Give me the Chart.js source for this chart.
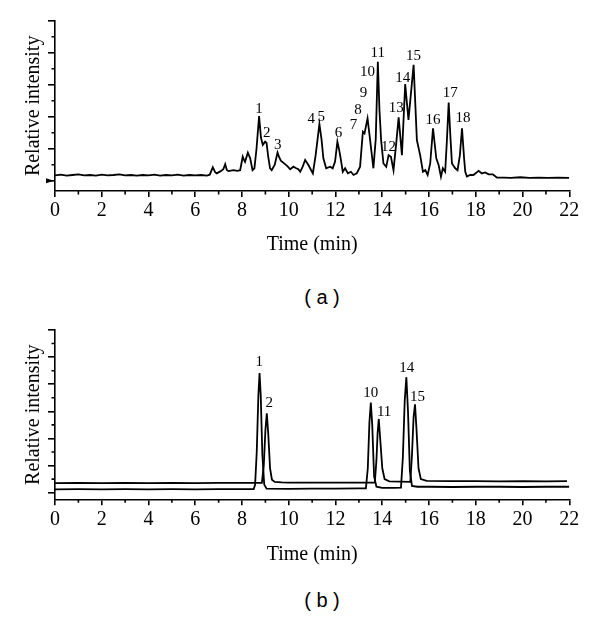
<!DOCTYPE html>
<html>
<head>
<meta charset="utf-8">
<title>Chromatograms</title>
<script src="https://cdn.jsdelivr.net/npm/chart.js@4.4.0/dist/chart.umd.min.js"></script>
<style>
  body { margin: 0; background: #fff; }
  #wrap { position: relative; width: 600px; height: 617px; overflow: hidden; }
  .panel { position: absolute; left: 0; width: 600px; height: 260px; }
  .caption {
    position: absolute; width: 100px; text-align: center;
    font-family: "Liberation Sans", Arial, sans-serif; font-size: 20px; color: #000;
  }
</style>
</head>
<body>
<div id="wrap">
  <div class="panel" style="top:0"><canvas id="chartA"></canvas></div>
  <div class="caption" style="left:272px; top:286px">( a )</div>
  <div class="panel" style="top:310px"><canvas id="chartB"></canvas></div>
  <div class="caption" style="left:272px; top:589px">( b )</div>
</div>
<script>
// --- panel (a): sample chromatogram ---
const timeA = [0, 0.25, 0.5, 0.75, 1, 1.25, 1.5, 1.75, 2, 2.25, 2.5, 2.75, 3, 3.25, 3.5, 3.75,
  4, 4.25, 4.5, 4.75, 5, 5.25, 5.5, 5.75, 6, 6.25, 6.5, 6.62, 6.75, 6.85, 6.92, 7.09, 7.2, 7.28,
  7.35, 7.42, 7.63, 7.8, 7.92, 8.03, 8.08, 8.13, 8.25, 8.35, 8.45, 8.53, 8.62, 8.73, 8.81, 8.89,
  8.99, 9.05, 9.12, 9.2, 9.27, 9.4, 9.52, 9.58, 9.66, 9.84, 9.95, 10.06, 10.2, 10.3, 10.41, 10.49,
  10.6, 10.7, 10.84, 11.03, 11.15, 11.31, 11.4, 11.48, 11.6, 11.77, 11.88, 11.98, 12.08, 12.16,
  12.23, 12.31, 12.41, 12.53, 12.66, 12.77, 12.91, 13.05, 13.17, 13.24, 13.37, 13.48, 13.62,
  13.72, 13.81, 13.88, 13.95, 14.05, 14.17, 14.27, 14.37, 14.48, 14.6, 14.7, 14.84, 14.98, 15.12,
  15.34, 15.48, 15.62, 15.74, 15.84, 15.94, 16.05, 16.17, 16.31, 16.41, 16.51, 16.59, 16.69,
  16.76, 16.84, 16.92, 16.98, 17.12, 17.22, 17.32, 17.41, 17.5, 17.55, 17.62, 17.76, 17.9, 18.12,
  18.26, 18.4, 18.55, 18.73, 18.9, 19.2, 19.5, 19.9, 20.3, 20.7, 21.1, 21.5, 22];
const intensityA = [0.17, 0.19, 0.16, 0.18, 0.2, 0.17, 0.18, 0.16, 0.19, 0.17, 0.18, 0.2, 0.17, 0.18, 0.16, 0.18,
  0.17, 0.19, 0.16, 0.18, 0.17, 0.19, 0.16, 0.18, 0.17, 0.18, 0.16, 0.19, 0.42, 0.27, 0.23, 0.3, 0.36, 0.52,
  0.34, 0.3, 0.33, 0.31, 0.33, 0.75, 0.66, 0.59, 0.88, 0.7, 0.33, 0.39, 1.0, 2.02, 1.35, 1.12,
  1.22, 1.18, 0.75, 0.39, 0.33, 0.5, 0.88, 0.75, 0.63, 0.52, 0.45, 0.36, 0.44, 0.4, 0.36, 0.28,
  0.45, 0.65, 0.49, 0.23, 0.8, 1.77, 1.3, 0.7, 0.39, 0.44, 0.39, 0.6, 1.22, 0.95,
  0.65, 0.28, 0.39, 0.23, 0.28, 0.18, 0.23, 0.44, 1.53, 1.48, 1.95, 1.27, 0.39,
  1.3, 3.72, 2.2, 1.27, 0.54, 0.44, 0.8, 0.75, 0.33, 1.2, 1.98, 0.8, 3.02, 1.9,
  3.62, 1.27, 0.8, 0.28, 0.33, 0.18, 0.54, 1.64, 0.7, 0.49, 0.13, 0.39, 0.28,
  1.2, 2.44, 1.3, 0.54, 0.39, 0.33, 0.8, 1.64, 0.7, 0.28, 0.13, 0.18, 0.18, 0.31,
  0.23, 0.26, 0.2, 0.2, 0.1, 0.1, 0.09, 0.11, 0.09, 0.1, 0.09, 0.1, 0.09];

const peakNamesA = ["1", "2", "3", "4", "5", "6", "7", "8", "9", "10", "11", "12", "13", "14", "15", "16", "17", "18"];
const peakTimeA = [8.73, 9.06, 9.53, 10.96, 11.39, 12.13, 12.77, 12.96, 13.2, 13.37, 13.81, 14.27, 14.6, 14.88, 15.34, 16.17, 16.91, 17.45];
const peakLevelA = [2.23, 1.5, 1.12, 1.93, 1.98, 1.48, 1.74, 2.21, 2.75, 3.41, 3.98, 1.06, 2.26, 3.2, 3.88, 1.9, 2.73, 1.95];

// --- panel (b): standards, two traces ---
const timeB1 = [0, 1, 2, 3, 4, 5, 6, 7, 8, 8.5, 8.56, 8.63, 8.7, 8.75, 8.8, 8.87, 8.95, 9.05, 10, 11, 12, 13,
  13.3, 13.38, 13.45, 13.51, 13.57, 13.65, 13.75, 14, 14.5, 14.8, 14.88, 14.96, 15.03, 15.1, 15.18, 15.27,
  15.5, 16, 17, 18, 19, 20, 21, 22];
const intensityB1 = [0.125, 0.13, 0.12, 0.13, 0.125, 0.13, 0.12, 0.13, 0.13, 0.13, 0.3, 1.5, 3.6, 4.41, 3.6, 1.4, 0.3, 0.15, 0.14, 0.15, 0.15, 0.16,
  0.16, 0.9, 2.6, 3.32, 2.5, 0.6, 0.22, 0.18, 0.18, 0.19, 1.3, 3.4, 4.26, 3.0, 0.8, 0.25,
  0.22, 0.22, 0.21, 0.22, 0.22, 0.21, 0.22, 0.22];

const timeB2 = [0, 1, 2, 3, 4, 5, 6, 7, 8, 8.85, 8.93, 9.0, 9.06, 9.12, 9.2, 9.28, 9.4, 9.7, 10, 11, 12, 13,
  13.68, 13.75, 13.8, 13.85, 13.91, 14.0, 14.1, 14.3, 15.2, 15.27, 15.34, 15.4, 15.46, 15.55, 15.65, 15.9,
  17, 18, 19, 20, 21, 21.9];
const intensityB2 = [0.35, 0.36, 0.35, 0.36, 0.35, 0.36, 0.35, 0.36, 0.36, 0.36, 1.0, 2.3, 2.93, 2.2, 0.9, 0.48, 0.4, 0.38, 0.37, 0.37, 0.37, 0.37,
  0.37, 1.2, 2.2, 2.72, 2.0, 0.9, 0.5, 0.42, 0.4, 1.4, 2.8, 3.26, 2.4, 0.9, 0.5, 0.44,
  0.43, 0.43, 0.42, 0.43, 0.42, 0.43];

const peakNamesB = ["1", "2", "10", "11", "14", "15"];
const peakTimeB = [8.74, 9.16, 13.51, 14.08, 15.05, 15.51];
const peakLevelB = [4.83, 3.32, 3.69, 2.99, 4.61, 3.54];

const xTickMax = 22;
const serif = "'Liberation Serif', 'Times New Roman', serif";

function toPoints(xs, ys) {
  return xs.map((x, i) => ({ x: x, y: ys[i] }));
}

// minor ticks, peak numbers and the small marker on the y axis
const extrasPlugin = {
  id: "extras",
  afterDraw(chart, args, opts) {
    const ctx = chart.ctx;
    const xs = chart.scales.x;
    const ys = chart.scales.y;
    const area = chart.chartArea;
    ctx.save();
    ctx.strokeStyle = "#000";
    ctx.lineWidth = 1.6;
    ctx.beginPath();
    for (let v = 1; v < xTickMax; v += 2) {
      const px = xs.getPixelForValue(v);
      ctx.moveTo(px, area.bottom);
      ctx.lineTo(px, area.bottom + 3.5);
    }
    for (let v = 0.5; v < ys.max; v += 1) {
      const py = ys.getPixelForValue(v);
      ctx.moveTo(area.left, py);
      ctx.lineTo(area.left - 3.5, py);
    }
    ctx.stroke();

    ctx.fillStyle = "#000";
    ctx.font = "15px " + serif;
    ctx.textAlign = "center";
    ctx.textBaseline = "middle";
    opts.names.forEach((name, i) => {
      ctx.fillText(name, xs.getPixelForValue(opts.times[i]), ys.getPixelForValue(opts.levels[i]));
    });

    if (opts.arrow) {
      const py = ys.getPixelForValue(0);
      ctx.beginPath();
      ctx.moveTo(area.left - 9, py - 2.5);
      ctx.lineTo(area.left - 1, py);
      ctx.lineTo(area.left - 9, py + 2.5);
      ctx.closePath();
      ctx.fill();
    }
    ctx.restore();
  },
};

function makeChart(canvasId, datasets, yMin, yMax, padTop, xAxisHeight, extras) {
  return new Chart(document.getElementById(canvasId), {
    type: "scatter",
    data: {
      datasets: datasets.map((pts) => ({
        data: pts,
        showLine: true,
        borderColor: "#000",
        borderWidth: 1.8,
        pointRadius: 0,
        tension: 0,
      })),
    },
    options: {
      responsive: true,
      maintainAspectRatio: false,
      animation: false,
      layout: { padding: { top: padTop, right: 30.7, left: 0, bottom: 0 } },
      plugins: { legend: { display: false }, tooltip: { enabled: false }, extras: extras },
      scales: {
        x: {
          type: "linear",
          min: 0,
          max: xTickMax,
          ticks: { stepSize: 2, color: "#000", font: { family: serif, size: 20 }, padding: 2, maxRotation: 0 },
          grid: { drawOnChartArea: false, tickLength: 6, color: "#000", lineWidth: 1.6 },
          border: { display: true, color: "#000", width: 1.6 },
          title: { display: true, text: "Time (min)", color: "#000", font: { family: serif, size: 20 }, padding: { top: 0, bottom: 3 } },
          afterFit(scale) { scale.height = xAxisHeight; },
        },
        y: {
          type: "linear",
          min: yMin,
          max: yMax,
          ticks: { stepSize: 1, display: false, includeBounds: false },
          grid: { drawOnChartArea: false, tickLength: 7, color: "#000", lineWidth: 1.6 },
          border: { display: true, color: "#000", width: 1.6 },
          title: { display: true, text: "Relative intensity", color: "#000", font: { family: serif, size: 20 }, padding: { top: 22, bottom: 0 } },
          afterFit(scale) { scale.width = 55; },
        },
      },
    },
    plugins: [extrasPlugin],
  });
}

makeChart("chartA", [toPoints(timeA, intensityA)], -0.32, 5, 20.7, 69,
  { names: peakNamesA, times: peakTimeA, levels: peakLevelA, arrow: true });

makeChart("chartB", [toPoints(timeB1, intensityB1), toPoints(timeB2, intensityB2)], -0.243, 6, 20, 70.7,
  { names: peakNamesB, times: peakTimeB, levels: peakLevelB, arrow: false });
</script>
</body>
</html>
